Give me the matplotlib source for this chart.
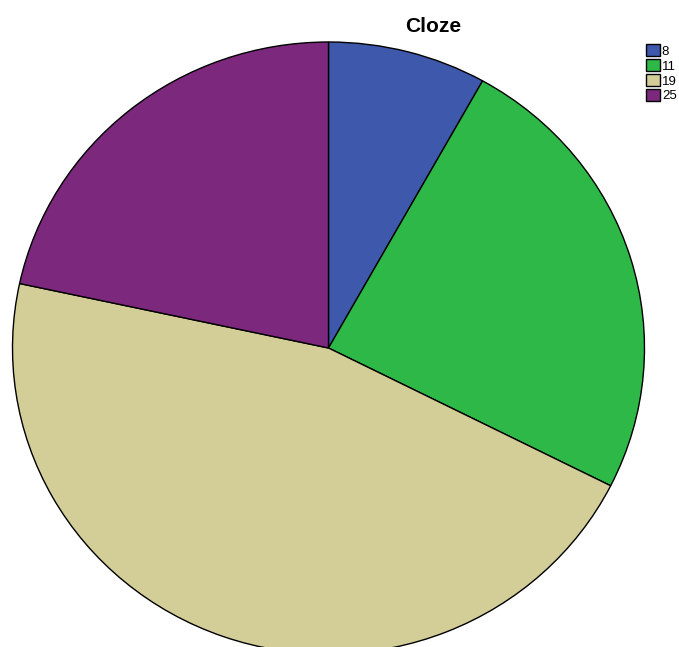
import matplotlib
matplotlib.use("Agg")
import matplotlib.pyplot as plt

# Cloze score categories and their frequencies
labels = ["8", "11", "19", "25"]
counts = [3, 9, 17, 8]
colors = ["#3E58AC", "#2EB848", "#D3CE97", "#7C287D"]

plt.rcParams["font.family"] = ["Liberation Sans", "DejaVu Sans"]

W, H = 679, 647
fig = plt.figure(figsize=(W / 100, H / 100), dpi=100)

# pie is slightly wider than tall in the reference, so no equal aspect
cx, cy, rx, ry = 328.5, 348, 316, 306
ax = fig.add_axes([(cx - rx) / W, (H - cy - ry) / H, 2 * rx / W, 2 * ry / H])
wedges, _ = ax.pie(counts, colors=colors, startangle=90, counterclock=False,
                   radius=1.0, wedgeprops={"edgecolor": "black", "linewidth": 1.0})
ax.set_xlim(-1, 1)
ax.set_ylim(-1, 1)
ax.set_aspect("auto")
ax.axis("off")

fig.text(433 / W, 1 - 26 / H, "Cloze", ha="center", va="center",
         fontsize=15, fontweight="bold")

fig.legend(wedges, labels, loc="upper left", bbox_to_anchor=(646 / W, 1 - 44 / H),
           frameon=False, fontsize=9.5, handlelength=1.05, handleheight=1.05,
           labelspacing=0.1, handletextpad=0.15, borderpad=0, borderaxespad=0)

fig.savefig("out.png", dpi=100)
